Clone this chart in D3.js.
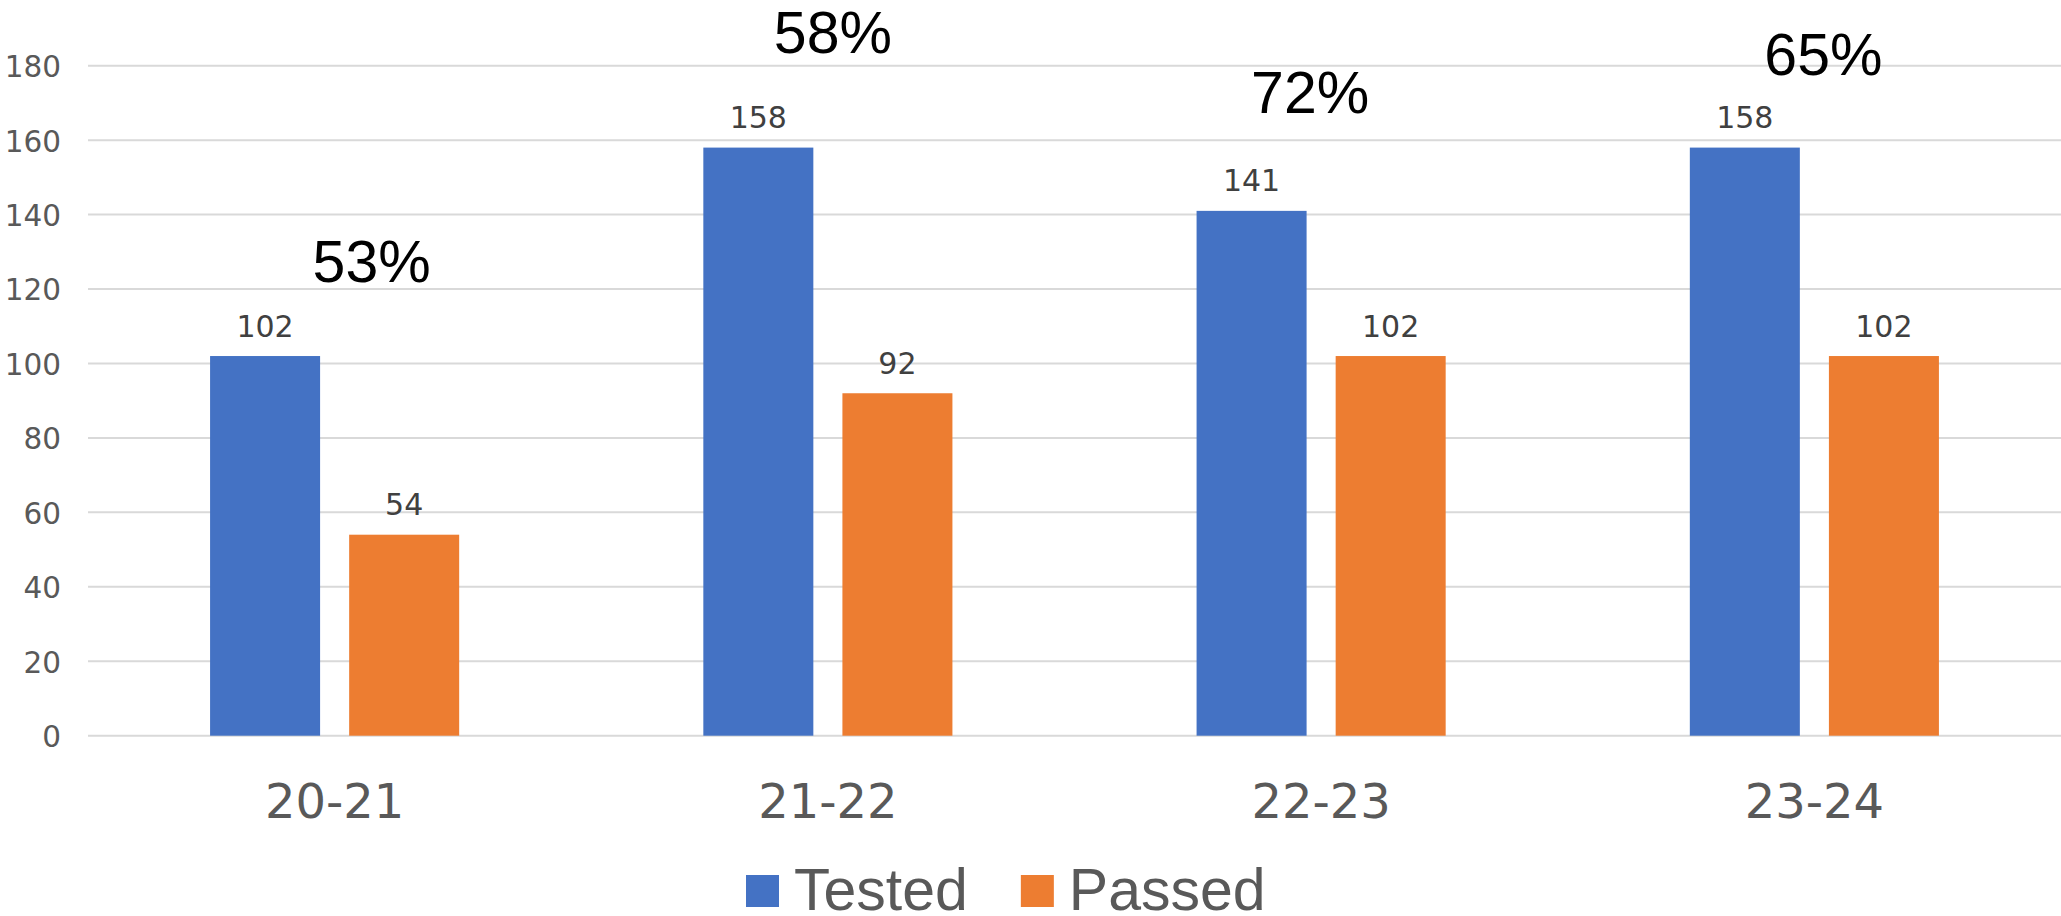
<!DOCTYPE html>
<html>
<head>
<meta charset="utf-8">
<script src="https://cdn.jsdelivr.net/npm/d3@7/dist/d3.min.js"></script>
<style>
  html, body { margin: 0; padding: 0; background: #ffffff; }
  svg { display: block; }
</style>
</head>
<body>
<svg id="chart" width="2061" height="916"></svg>
<script>
// ---- data ----
const categories = ["20-21", "21-22", "22-23", "23-24"];
const seriesNames = ["Tested", "Passed"];
const tested = [102, 158, 141, 158];
const passed = [54, 92, 102, 102];
const yTicks = [0, 20, 40, 60, 80, 100, 120, 140, 160, 180];

// ---- layout (annotation placement for the percentage text boxes) ----
const pctLayout = [
  { dx: 37, yVal: 122 },
  { dx: 5, yVal: 183.3 },
  { dx: -11, yVal: 167.2 },
  { dx: 9, yVal: 177.5 }
];

const W = 2061, H = 916;
const plot = { left: 88, right: 2061, top: 65.7, bottom: 735.7 };
const colors = { Tested: "#4472C4", Passed: "#ED7D31" };

const svg = d3.select("#chart");

const x0 = d3.scaleBand().domain(categories).range([plot.left, plot.right]).padding(0);
const bw = x0.bandwidth();
const groupW = bw * 0.505;
const x1 = d3.scaleBand().domain(seriesNames)
  .range([(bw - groupW) / 2, (bw + groupW) / 2])
  .paddingInner(0.209).paddingOuter(0);
const y = d3.scaleLinear().domain([0, 180]).range([plot.bottom, plot.top]);

// gridlines
svg.append("g").selectAll("line").data(yTicks).join("line")
  .attr("x1", plot.left).attr("x2", plot.right)
  .attr("y1", d => y(d)).attr("y2", d => y(d))
  .attr("stroke", "#d9d9d9").attr("stroke-width", 2);

// y axis labels
const yAxis = d3.axisLeft(y).tickValues(yTicks).tickSize(0).tickPadding(0);
const yg = svg.append("g").attr("transform", `translate(${61},0)`).call(yAxis);
yg.select(".domain").remove();
yg.selectAll("text")
  .attr("font-family", "DejaVu Sans, sans-serif")
  .attr("font-size", 29.5)
  .attr("fill", "#595959")
  .attr("dy", "0.37em")
  .attr("text-anchor", "end");

// bars
const rows = categories.map((c, i) => ({ cat: c, vals: [
  { s: "Tested", v: tested[i] }, { s: "Passed", v: passed[i] }] }));

const groups = svg.append("g").selectAll("g").data(rows).join("g")
  .attr("transform", d => `translate(${x0(d.cat)},0)`);

groups.selectAll("rect").data(d => d.vals).join("rect")
  .attr("x", d => x1(d.s))
  .attr("width", x1.bandwidth())
  .attr("y", d => y(d.v))
  .attr("height", d => y(0) - y(d.v))
  .attr("fill", d => colors[d.s]);

groups.selectAll("text.val").data(d => d.vals).join("text")
  .attr("class", "val")
  .attr("x", d => x1(d.s) + x1.bandwidth() / 2)
  .attr("y", d => y(d.v) - 19.5)
  .attr("text-anchor", "middle")
  .attr("font-family", "DejaVu Sans, sans-serif")
  .attr("font-size", 30)
  .attr("fill", "#404040")
  .text(d => d.v);

// x axis labels
const xAxis = d3.axisBottom(x0).tickSize(0).tickPadding(0);
const xg = svg.append("g").attr("transform", `translate(0,${818})`).call(xAxis);
xg.select(".domain").remove();
xg.selectAll("text")
  .attr("dy", 0)
  .attr("y", 0)
  .attr("font-family", "DejaVu Sans, sans-serif")
  .attr("font-size", 48)
  .attr("fill", "#595959");

// percentage annotations
svg.append("g").selectAll("text").data(categories).join("text")
  .attr("x", (c, i) => x0(c) + bw / 2 + pctLayout[i].dx)
  .attr("y", (c, i) => y(pctLayout[i].yVal))
  .attr("text-anchor", "middle")
  .attr("font-family", "Liberation Sans, Arial, sans-serif")
  .attr("font-size", 59)
  .attr("fill", "#000000")
  .text((c, i) => Math.round(passed[i] / tested[i] * 100) + "%");

// legend
const legend = svg.append("g");
let lx = 746;
seriesNames.forEach(name => {
  legend.append("rect")
    .attr("x", lx).attr("y", 875).attr("width", 33).attr("height", 32)
    .attr("fill", colors[name]);
  const t = legend.append("text")
    .attr("x", lx + 48).attr("y", 910)
    .attr("font-family", "Liberation Sans, Arial, sans-serif")
    .attr("font-size", 59)
    .attr("fill", "#595959")
    .text(name);
  const w = t.node().getComputedTextLength();
  lx = lx + 48 + w + 53;
});
</script>
</body>
</html>
